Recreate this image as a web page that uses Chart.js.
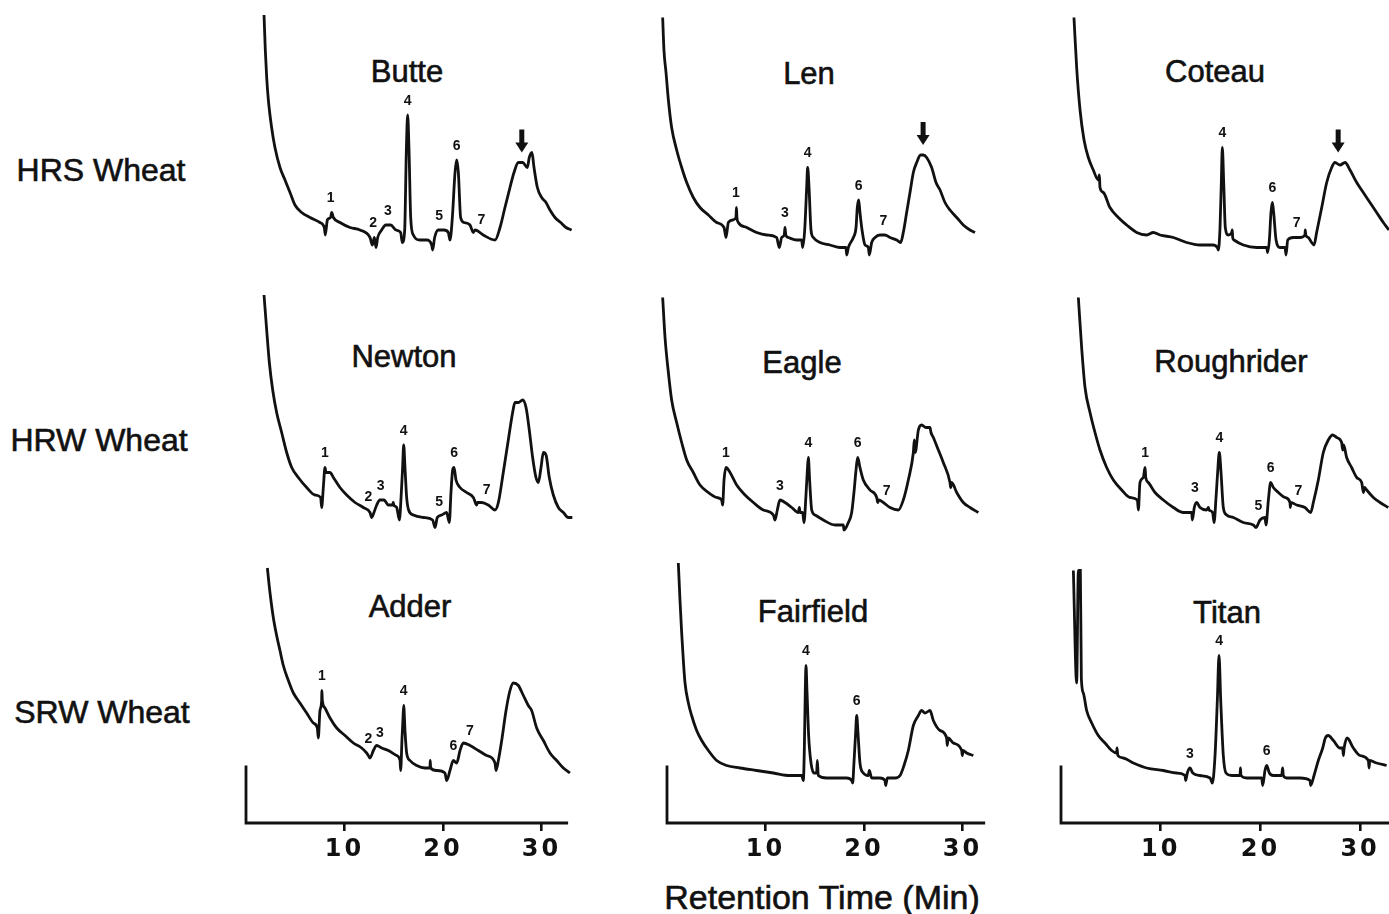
<!DOCTYPE html>
<html>
<head>
<meta charset="utf-8">
<style>
  html, body { margin: 0; padding: 0; background: #fff; overflow: hidden; }
  body { width: 1389px; height: 914px; position: relative; font-family: "Liberation Sans", Arial, sans-serif; color: #111; }
  canvas { position: absolute; }
  .lbl { position: absolute; transform: translate(-50%, -50%); white-space: nowrap; -webkit-text-stroke: 0.6px #111; }
  .row { font-size: 32px; }
  .name { font-size: 31px; }
  .axis-title { font-size: 34px; }
</style>
<script src="https://cdn.jsdelivr.net/npm/chart.js"></script>
</head>
<body>
<script>
// --- data ---------------------------------------------------------------
const rowNames = ['HRS Wheat', 'HRW Wheat', 'SRW Wheat'];
const cultivars = [['Butte', 'Len', 'Coteau'], ['Newton', 'Eagle', 'Roughrider'], ['Adder', 'Fairfield', 'Titan']];
const xTicks = [10, 20, 30];
const xTitle = 'Retention Time (Min)';

// [retention time (min), detector response]
const butte = [[1.83,98],[1.96,84],[2.10,73],[2.27,64],[2.60,53],[2.94,45],[3.45,37],[3.96,32],[4.47,27],[4.97,22],[5.65,19],[6.50,17],[7.51,15],[7.95,13],[8.05,10],[8.26,16],[8.59,17],[8.70,19],[8.87,17],[9.54,15],[10.56,13],[11.57,12],[12.59,9],[12.83,6],[13.03,9],[13.20,5],[13.37,9],[13.77,12],[14.21,14],[14.69,14],[15.23,12],[15.70,11],[15.87,7],[16.11,12],[16.28,44],[16.41,58],[16.55,44],[16.72,17],[16.99,10],[17.66,8],[18.34,8],[18.85,6],[18.95,4],[19.15,9],[19.53,12],[20.10,12],[20.54,11],[20.71,8],[20.95,17],[21.22,35],[21.39,40],[21.56,35],[21.79,17],[22.13,15],[22.74,14],[23.08,11],[23.25,12],[24.09,10],[25.28,8],[25.79,13],[26.29,21],[26.80,29],[27.21,35],[27.65,39],[28.09,39],[28.56,37],[28.76,41],[29.03,43],[29.24,37],[29.58,29],[30.02,25],[30.46,23],[30.86,20],[31.37,17],[31.95,15],[32.49,13],[33.06,12]];
const len = [[-0.44,97],[-0.31,84],[-0.10,75],[0.14,64],[0.47,53],[0.98,44],[1.49,37],[2.00,31],[2.67,25],[3.35,21],[4.20,18],[5.04,15],[5.79,13],[5.99,9],[6.23,15],[6.67,16],[7.00,17],[7.05,21],[7.10,17],[7.24,15],[8.09,13],[9.10,11],[10.12,10],[11.13,9],[11.40,5],[11.64,9],[11.90,10],[11.98,13],[12.06,10],[12.32,9],[13.16,8],[13.67,8],[13.77,5],[13.98,12],[14.18,29],[14.28,37],[14.42,29],[14.62,12],[14.86,9],[15.53,7],[16.55,6],[17.56,5],[18.17,5],[18.24,2],[18.41,5],[18.92,9],[19.19,13],[19.32,21],[19.46,24],[19.59,19],[19.80,12],[20.10,6],[20.44,5],[20.54,2],[20.78,7],[21.12,9],[21.62,10],[22.13,10],[22.64,9],[23.32,8],[23.72,7],[23.99,11],[24.33,19],[24.67,27],[25.01,35],[25.35,39],[25.75,42],[26.02,42],[26.36,41],[26.87,37],[27.31,31],[27.72,28],[28.22,23],[28.73,20],[29.41,17],[30.08,14],[30.76,12],[31.27,11]];
const coteau = [[1.30,97],[1.57,77],[1.91,60],[2.31,48],[2.74,41],[3.24,36],[3.74,32],[3.85,34],[3.91,29],[4.25,27],[4.91,21],[5.75,17],[6.59,14],[7.59,11],[8.59,10],[9.26,11],[9.93,10],[11.27,9],[12.60,7],[13.94,6],[15.28,6],[15.68,5],[15.78,4],[15.95,13],[16.08,31],[16.18,45],[16.32,31],[16.48,13],[16.78,10],[17.12,11],[17.18,12],[17.22,9],[17.35,8],[18.29,6],[19.63,5],[20.63,5],[20.73,3],[20.90,8],[21.06,19],[21.20,23],[21.33,19],[21.57,8],[21.97,5],[22.47,5],[22.57,2],[22.74,8],[23.30,9],[23.97,9],[24.47,10],[24.50,12],[24.55,10],[24.81,9],[25.14,7],[25.38,6],[25.64,11],[26.15,21],[26.65,31],[27.15,37],[27.48,39],[27.98,38],[28.49,39],[28.99,36],[29.66,31],[30.32,27],[30.99,23],[31.66,19],[32.33,15],[32.90,12]];
const newton = [[1.83,96],[2.10,82],[2.37,69],[2.71,58],[3.11,49],[3.62,41],[4.13,33],[4.64,27],[5.31,23],[6.16,19],[7.00,16],[7.58,15],[7.68,11],[7.85,19],[8.02,27],[8.12,25],[8.53,25],[8.87,23],[9.54,19],[10.22,16],[11.07,13],[11.91,11],[12.59,9],[12.76,7],[12.99,9],[13.27,12],[13.60,14],[14.01,14],[14.45,12],[14.89,12],[14.95,13],[15.00,12],[15.30,11],[15.57,6],[15.77,17],[15.90,27],[16.01,36],[16.14,27],[16.31,15],[16.51,10],[16.99,8],[18.00,7],[18.95,6],[19.19,3],[19.42,7],[19.86,8],[20.37,9],[20.64,5],[20.81,17],[20.98,26],[21.12,27],[21.32,22],[21.73,19],[22.40,17],[23.08,15],[23.42,12],[23.50,13],[23.93,13],[24.60,12],[25.28,10],[25.62,13],[26.12,25],[26.63,38],[27.07,49],[27.31,53],[27.65,53],[28.09,54],[28.43,51],[28.76,42],[29.10,31],[29.44,23],[29.68,21],[29.95,27],[30.19,33],[30.46,32],[30.79,23],[31.20,16],[31.71,11],[32.22,9],[32.72,7],[33.13,7]];
const eagle = [[-0.44,95],[-0.20,79],[0.14,65],[0.47,54],[0.98,45],[1.49,37],[2.00,30],[2.67,25],[3.35,20],[4.20,17],[5.04,15],[5.55,14],[5.65,12],[5.79,22],[5.99,27],[6.40,25],[7.07,20],[7.92,16],[8.77,13],[9.78,10],[10.80,8],[10.96,6],[11.20,10],[11.47,14],[11.98,13],[12.66,11],[13.33,9],[13.44,11],[13.50,9],[13.77,9],[13.91,5],[14.11,16],[14.25,26],[14.35,31],[14.48,22],[14.69,10],[15.03,8],[15.87,6],[17.06,4],[17.90,4],[17.97,2],[18.41,5],[18.75,9],[18.98,17],[19.19,26],[19.36,31],[19.59,27],[19.93,22],[20.61,18],[21.29,15],[21.39,13],[21.50,14],[21.96,13],[22.64,11],[23.49,10],[23.99,14],[24.50,22],[25.01,33],[25.11,38],[25.20,33],[25.52,42],[25.85,44],[26.29,43],[26.70,43],[26.80,41],[27.04,39],[27.55,34],[28.05,29],[28.73,21],[28.80,19],[28.90,21],[29.41,17],[30.08,13],[30.76,11],[31.61,9]];
const roughrider = [[1.74,95],[2.07,75],[2.41,59],[2.91,49],[3.41,41],[3.91,34],[4.58,27],[5.25,22],[6.09,18],[6.92,15],[7.66,14],[7.76,10],[7.92,21],[8.26,23],[8.43,27],[8.50,23],[8.76,21],[9.43,17],[10.26,14],[11.27,11],[12.27,9],[13.11,9],[13.17,6],[13.37,11],[13.61,13],[13.94,11],[14.61,10],[14.78,11],[14.85,10],[15.21,9],[15.35,5],[15.55,15],[15.71,25],[15.88,33],[16.05,25],[16.28,11],[16.62,8],[17.29,7],[18.29,5],[19.29,4],[19.56,3],[19.96,6],[20.46,7],[20.56,4],[20.80,14],[21.03,21],[21.30,19],[21.80,17],[22.47,15],[22.97,13],[23.00,11],[23.05,13],[23.64,12],[24.47,11],[25.04,9],[25.31,13],[25.81,22],[26.31,33],[26.81,38],[27.25,40],[27.65,39],[28.15,37],[28.25,34],[28.35,36],[28.65,31],[29.15,27],[29.66,23],[30.16,21],[30.33,17],[30.45,19],[30.66,18],[31.33,15],[32.00,13],[32.83,11]];
const adder = [[2.17,102],[2.44,92],[2.78,82],[3.11,75],[3.45,69],[3.79,63],[4.30,57],[4.81,52],[5.48,48],[6.16,44],[6.84,40],[7.24,38],[7.34,34],[7.51,45],[7.68,49],[7.70,53],[7.75,49],[8.02,46],[8.53,42],[9.21,38],[10.05,35],[10.90,32],[11.74,30],[12.25,28],[12.42,27],[12.59,26],[12.93,29],[13.27,31],[13.77,30],[14.45,29],[15.30,27],[15.64,25],[15.70,21],[15.84,34],[15.94,42],[16.01,47],[16.14,37],[16.31,28],[16.65,25],[17.33,23],[18.17,22],[18.68,22],[18.70,25],[18.75,22],[19.36,21],[20.20,20],[20.37,17],[20.71,21],[21.05,25],[21.39,24],[21.73,29],[22.06,32],[22.74,31],[23.59,29],[24.43,27],[25.28,24],[25.38,21],[25.62,25],[25.96,33],[26.40,45],[26.80,53],[27.14,56],[27.65,55],[28.16,51],[28.66,47],[29.00,45],[29.51,38],[30.19,33],[30.86,28],[31.54,25],[32.22,22],[32.89,20]];
const fairfield = [[1.15,104],[1.32,89],[1.49,76],[1.66,65],[1.83,56],[2.17,48],[2.50,43],[3.01,37],[3.52,33],[4.20,29],[5.04,25],[6.06,23],[7.41,22],[9.10,21],[10.80,20],[12.49,19],[13.67,19],[13.84,17],[13.94,29],[14.04,53],[14.11,63],[14.21,53],[14.38,35],[14.62,24],[14.92,20],[15.19,20],[15.26,25],[15.36,19],[16.21,18],[17.23,18],[18.24,18],[18.75,17],[18.85,16],[18.98,24],[19.15,36],[19.26,43],[19.39,36],[19.59,24],[19.93,20],[20.44,19],[20.54,21],[20.78,18],[21.62,18],[22.13,17],[22.20,15],[22.37,18],[23.15,18],[23.66,19],[24.06,23],[24.50,29],[25.01,39],[25.52,43],[25.85,45],[26.19,44],[26.70,45],[27.04,41],[27.72,37],[28.39,34],[28.45,31],[28.55,34],[29.07,32],[29.92,29],[29.98,27],[30.05,29],[30.42,28],[31.10,27]];
const titan = [[1.24,101],[1.57,56],[1.74,101],[1.94,101],[2.04,58],[2.24,52],[2.57,45],[3.08,40],[3.74,35],[4.41,32],[5.08,29],[5.58,28],[5.62,30],[5.70,27],[6.25,26],[7.26,24],[8.59,22],[10.26,21],[11.60,20],[12.44,19],[12.50,17],[12.67,20],[12.94,22],[13.21,20],[13.94,19],[14.95,18],[15.18,16],[15.45,27],[15.68,49],[15.85,67],[16.02,49],[16.28,27],[16.55,20],[17.12,19],[17.95,19],[18.00,22],[18.05,19],[18.62,18],[20.13,18],[20.23,15],[20.46,21],[20.63,23],[20.90,20],[21.30,19],[22.13,19],[22.23,22],[22.30,19],[22.64,18],[23.97,18],[24.98,17],[25.04,15],[25.38,19],[25.81,25],[26.25,30],[26.51,34],[26.81,35],[27.32,33],[27.98,30],[28.25,30],[28.32,27],[28.40,30],[28.70,34],[29.32,30],[29.99,27],[30.83,25],[30.90,22],[30.97,25],[31.66,24],[32.66,23]];

// peak numbers: [retention time, label]
const butteLabels = [[8.6,'1'],[12.9,'2'],[14.4,'3'],[16.41,'4'],[19.6,'5'],[21.39,'6'],[23.9,'7']];
const lenLabels = [[7.0,'1'],[11.98,'3'],[14.28,'4'],[19.46,'6'],[21.96,'7']];
const coteauLabels = [[16.18,'4'],[21.20,'6'],[23.64,'7']];
const newtonLabels = [[8.02,'1'],[12.42,'2'],[13.67,'3'],[16.01,'4'],[19.6,'5'],[21.12,'6'],[24.43,'7']];
const eagleLabels = [[5.99,'1'],[11.47,'3'],[14.35,'4'],[19.36,'6'],[22.3,'7']];
const roughriderLabels = [[8.43,'1'],[13.44,'3'],[15.88,'4'],[19.79,'5'],[21.03,'6'],[23.81,'7']];
const adderLabels = [[7.7,'1'],[12.42,'2'],[13.6,'3'],[16.01,'4'],[21.05,'6'],[22.74,'7']];
const fairfieldLabels = [[14.11,'4'],[19.26,'6']];
const titanLabels = [[12.94,'3'],[15.85,'4'],[20.63,'6']];
// marked peak (arrow) in the HRS row
const hrsArrows = [28.0, 26.0, 27.8];

// --- layout -------------------------------------------------------------
const PPU = 2.5; // px per response unit
const COLS = [
  { x0: 246, ppm: 9.85, axisEnd: 32.7 },
  { x0: 667, ppm: 9.85, axisEnd: 32.3 },
  { x0: 1061, ppm: 9.97, axisEnd: 33.6 }
];
const ROWS = [
  { bottom: 260, vmax: 102 },
  { bottom: 535, vmax: 102 },
  { bottom: 823, vmax: 106 }
];
const STUB = 23;
const titlePos = [[407, 72], [809, 74], [1215, 72], [404, 357], [802, 363], [1231, 362], [410, 607], [813, 612], [1227, 613]];
const rowLabelPos = [[101, 170], [99, 440], [102, 712]];

const panels = [
  [{ trace: butte, labels: butteLabels, arrow: hrsArrows[0] }, { trace: len, labels: lenLabels, arrow: hrsArrows[1] }, { trace: coteau, labels: coteauLabels, arrow: hrsArrows[2] }],
  [{ trace: newton, labels: newtonLabels }, { trace: eagle, labels: eagleLabels }, { trace: roughrider, labels: roughriderLabels }],
  [{ trace: adder, labels: adderLabels }, { trace: fairfield, labels: fairfieldLabels }, { trace: titan, labels: titanLabels }]
];

function addText(text, cls, x, y) {
  const d = document.createElement('div');
  d.className = 'lbl ' + cls;
  d.textContent = text;
  d.style.left = x + 'px';
  d.style.top = y + 'px';
  document.body.appendChild(d);
}

function valueAt(tr, t) {
  if (t <= tr[0][0]) return tr[0][1];
  for (let i = 1; i < tr.length; i++) {
    if (tr[i][0] >= t) {
      const [xa, ya] = tr[i - 1], [xb, yb] = tr[i];
      return ya + (yb - ya) * (t - xa) / (xb - xa);
    }
  }
  return tr[tr.length - 1][1];
}
function peakNear(tr, t, w) {
  let m = valueAt(tr, t);
  tr.forEach(([x, y]) => { if (Math.abs(x - t) <= w && y > m) m = y; });
  return m;
}

function panelPlugin(p, col, axis) {
  return {
    id: 'panelDecor',
    beforeDraw(chart) { chart.ctx.letterSpacing = '3px'; },
    beforeDatasetsDraw(chart) { chart.ctx.letterSpacing = '0px'; },
    afterDatasetsDraw(chart) {
      const { ctx, scales: { x, y } } = chart;
      ctx.save();
      ctx.fillStyle = '#111';
      ctx.strokeStyle = '#111';
      if (axis) {
        ctx.lineWidth = 2.8;
        ctx.beginPath();
        ctx.moveTo(x.getPixelForValue(0), y.getPixelForValue(STUB));
        ctx.lineTo(x.getPixelForValue(0), y.getPixelForValue(0));
        ctx.lineTo(x.getPixelForValue(col.axisEnd), y.getPixelForValue(0));
        ctx.stroke();
      }
      ctx.font = 'bold 14px "Liberation Sans", Arial, sans-serif';
      ctx.textAlign = 'center';
      ctx.textBaseline = 'bottom';
      p.labels.forEach(([t, s]) => {
        const px = x.getPixelForValue(t);
        const py = y.getPixelForValue(peakNear(p.trace, t, 0.25));
        ctx.fillText(s, px, py - 7);
      });
      if (p.arrow != null) {
        const px = x.getPixelForValue(p.arrow);
        const py = y.getPixelForValue(peakNear(p.trace, p.arrow, 0.5)) - 10;
        ctx.fillRect(px - 2.5, py - 23, 5, 14);
        ctx.beginPath();
        ctx.moveTo(px - 6.5, py - 10);
        ctx.lineTo(px + 6.5, py - 10);
        ctx.lineTo(px, py);
        ctx.closePath();
        ctx.fill();
      }
      ctx.restore();
    }
  };
}

function makePanel(r, c) {
  const p = panels[r][c], col = COLS[c], row = ROWS[r];
  const axis = r === 2;
  const pad = 14;
  const axisH = axis ? 52 : 0;
  const bottomPad = axis ? 6 : pad;
  const left = Math.round(col.x0 - col.ppm * 1.5) - pad;
  const right = Math.round(col.x0 + col.ppm * 34.2) + pad;
  const areaTop = Math.round(row.bottom - row.vmax * PPU);
  const top = areaTop - pad;
  const width = right - left;
  const height = row.bottom - top + axisH + bottomPad;

  const canvas = document.createElement('canvas');
  canvas.width = width;
  canvas.height = height;
  canvas.style.left = left + 'px';
  canvas.style.top = top + 'px';
  document.body.appendChild(canvas);

  new Chart(canvas, {
    type: 'line',
    data: {
      datasets: [{
        data: p.trace.map(([x, y]) => ({ x, y })),
        borderColor: '#111',
        borderWidth: 2.8,
        pointRadius: 0,
        cubicInterpolationMode: 'monotone',
        fill: false,
        clip: false
      }]
    },
    options: {
      responsive: false,
      animation: false,
      devicePixelRatio: 1,
      layout: { padding: { left: pad, right: pad, top: pad, bottom: bottomPad } },
      plugins: { legend: { display: false }, tooltip: { enabled: false } },
      scales: {
        x: {
          type: 'linear',
          min: (left + pad - col.x0) / col.ppm,
          max: (right - pad - col.x0) / col.ppm,
          display: axis,
          afterBuildTicks: s => { s.ticks = xTicks.map(v => ({ value: v })); },
          afterFit: s => { s.height = axisH; },
          border: { display: false },
          grid: { drawOnChartArea: false, drawTicks: true, tickLength: 8, color: '#111', lineWidth: 2.6 },
          ticks: {
            color: '#111', padding: 4, maxRotation: 0, autoSkip: false,
            font: { family: 'DejaVu Sans', weight: 'bold', size: 24 }
          }
        },
        y: { type: 'linear', min: 0, max: (row.bottom - areaTop) / PPU, display: false }
      }
    },
    plugins: [panelPlugin(p, col, axis)]
  });
}

rowNames.forEach((n, r) => addText(n, 'row', rowLabelPos[r][0], rowLabelPos[r][1]));
cultivars.forEach((names, r) => names.forEach((n, c) => {
  const [tx, ty] = titlePos[r * 3 + c];
  addText(n, 'name', tx, ty);
}));
addText(xTitle, 'axis-title', 822, 897);

for (let r = 0; r < 3; r++) for (let c = 0; c < 3; c++) makePanel(r, c);
</script>
</body>
</html>
